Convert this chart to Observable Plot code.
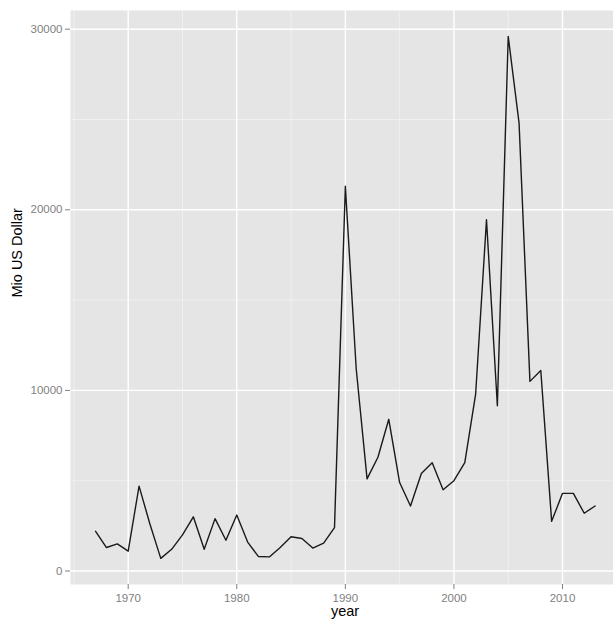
<!DOCTYPE html>
<html>
<head>
<meta charset="utf-8">
<script src="https://cdn.jsdelivr.net/npm/d3@7"></script>
<script src="https://cdn.jsdelivr.net/npm/@observablehq/plot@0.6"></script>
<style>
  html, body { margin: 0; padding: 0; background: #ffffff; }
</style>
</head>
<body>
<div id="chart"></div>
<script>
const years = [1967, 1968, 1969, 1970, 1971, 1972, 1973, 1974, 1975, 1976,
  1977, 1978, 1979, 1980, 1981, 1982, 1983, 1984, 1985, 1986,
  1987, 1988, 1989, 1990, 1991, 1992, 1993, 1994, 1995, 1996,
  1997, 1998, 1999, 2000, 2001, 2002, 2003, 2004, 2005, 2006,
  2007, 2008, 2009, 2010, 2011, 2012, 2013];
const values = [2200, 1300, 1500, 1100, 4700, 2600, 700, 1200, 2000, 3000,
  1200, 2900, 1700, 3100, 1600, 800, 780, 1300, 1900, 1800,
  1270, 1540, 2400, 21300, 11200, 5100, 6300, 8400, 4900, 3600,
  5400, 6000, 4500, 5000, 6000, 9800, 19450, 9150, 29600, 24800,
  10500, 11100, 2750, 4300, 4300, 3200, 3600];
const xMajor = [1970, 1980, 1990, 2000, 2010];
const xMinor = [1965, 1975, 1985, 1995, 2005, 2015];
const yMajor = [0, 10000, 20000, 30000];
const yMinor = [5000, 15000, 25000];
const xTitle = "year";
const yTitle = "Mio US Dollar";

const data = years.map((y, i) => ({year: y, value: values[i]}));

const chart = Plot.plot({
  width: 613,
  height: 621,
  marginLeft: 70,
  marginRight: 0,
  marginTop: 10,
  marginBottom: 37,
  style: {fontFamily: "'Liberation Sans', Arial, sans-serif", fontSize: "11.5px", background: "#ffffff"},
  x: {domain: [1964.686, 2014.697]},
  y: {domain: [-747, 31035]},
  marks: [
    Plot.frame({fill: "#E5E5E5", stroke: null}),
    Plot.ruleY(yMinor, {stroke: "#F2F2F2", strokeWidth: 0.8}),
    Plot.ruleX(xMinor, {stroke: "#F2F2F2", strokeWidth: 0.8}),
    Plot.ruleY(yMajor, {stroke: "#ffffff", strokeWidth: 1.4}),
    Plot.ruleX(xMajor, {stroke: "#ffffff", strokeWidth: 1.4}),
    Plot.axisY({ticks: yMajor, tickSize: 5, tickPadding: 3, tickFormat: d3.format("d"), label: null, color: "#7F7F7F"}),
    Plot.axisX({ticks: xMajor, tickSize: 5, tickPadding: 4, tickFormat: d3.format("d"), label: null, color: "#7F7F7F"}),
    Plot.line(data, {x: "year", y: "value", stroke: "#1a1a1a", strokeWidth: 1.4}),
    Plot.text([yTitle], {frameAnchor: "left", rotate: -90, dx: -53, fontSize: 14.5, fill: "#000000"}),
    Plot.text([xTitle], {frameAnchor: "bottom", dx: 3, dy: 31, fontSize: 14.5, fill: "#000000"})
  ]
});
document.getElementById("chart").appendChild(chart);
</script>
</body>
</html>
